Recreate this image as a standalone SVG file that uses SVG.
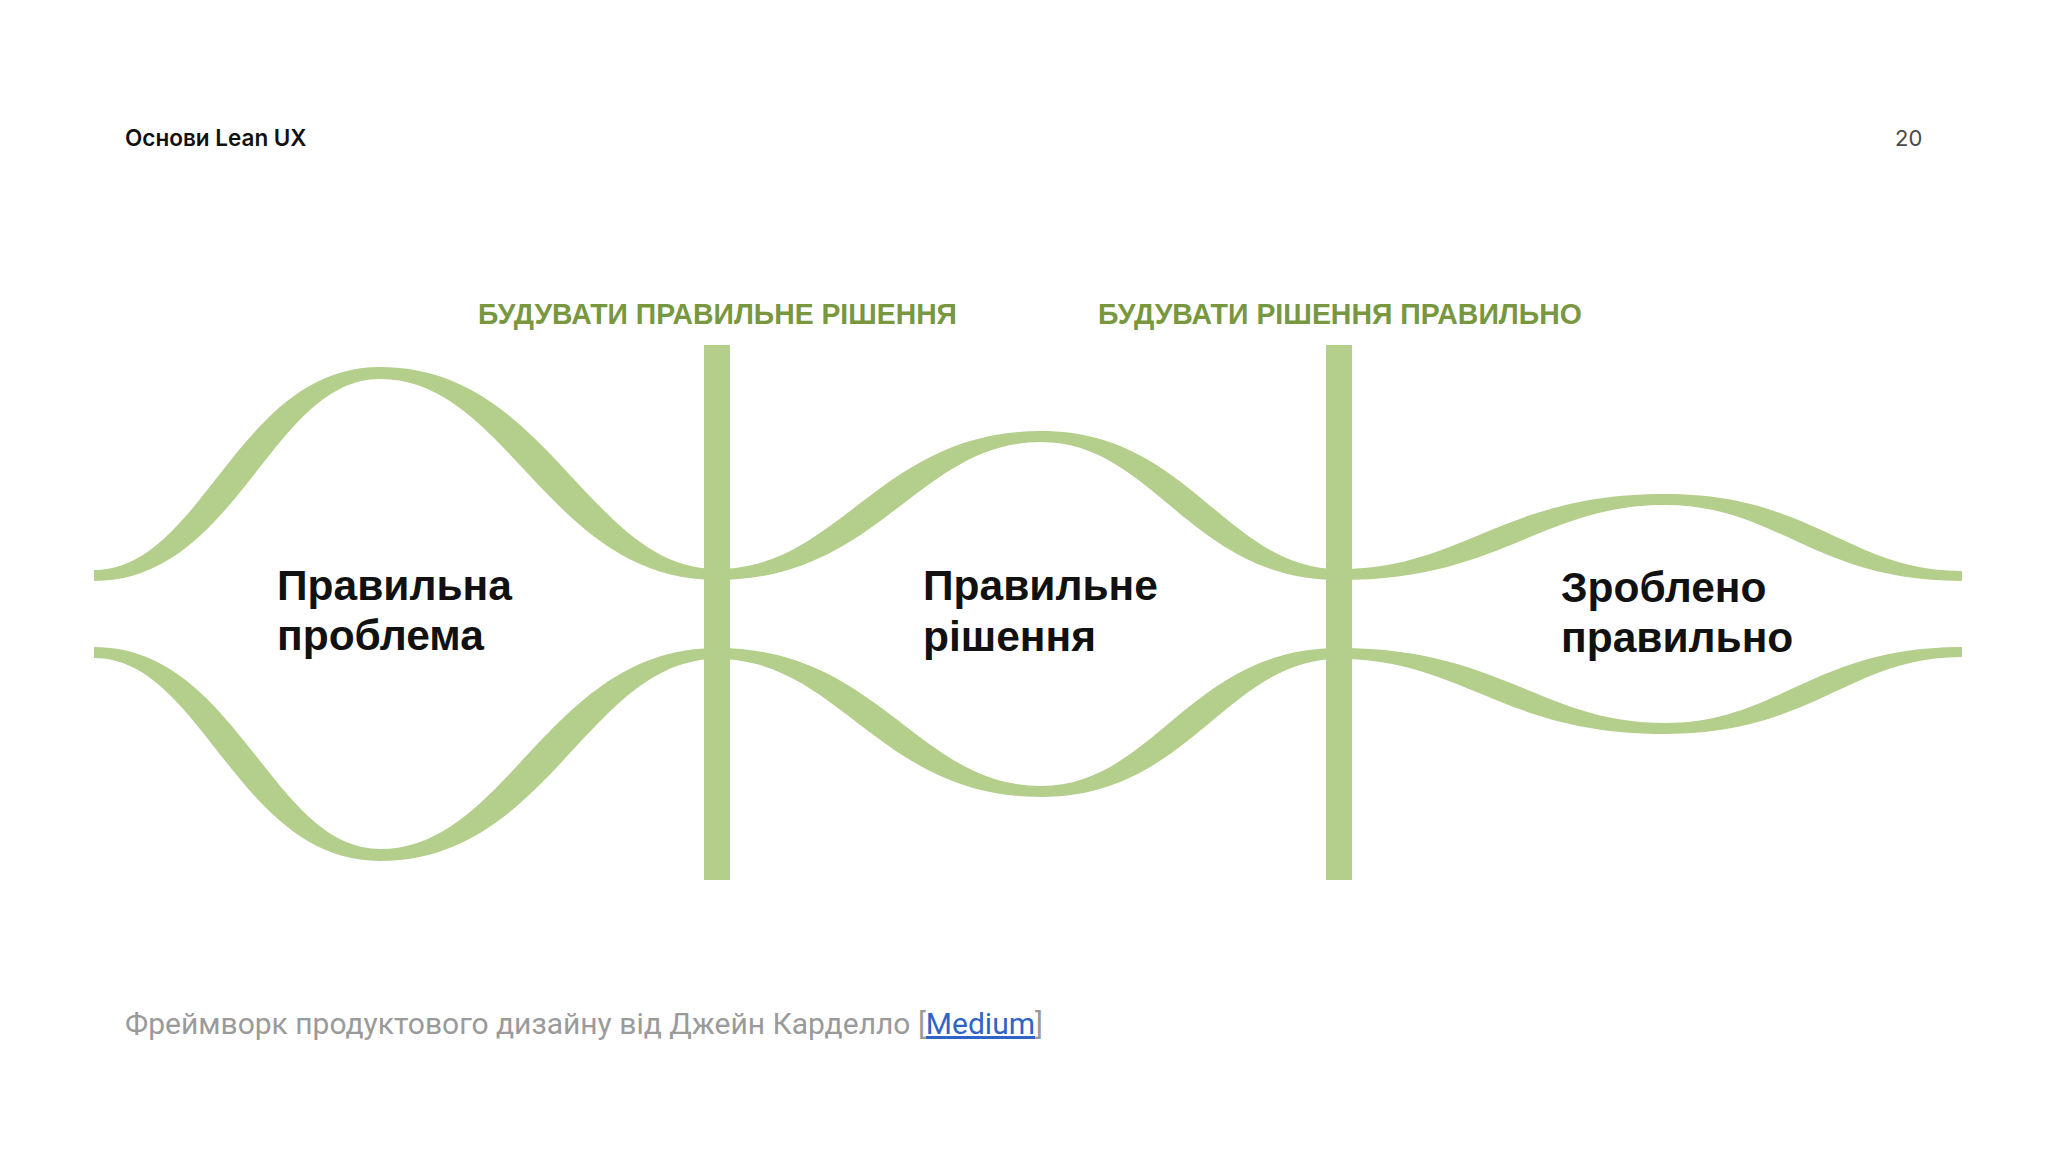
<svg xmlns="http://www.w3.org/2000/svg" width="2048" height="1152" viewBox="0 0 2048 1152">
  <defs>
    <style>
      .hdr { font-family: Inter, "Noto Sans", sans-serif; font-size: 22.5px; font-weight: 600; fill: #111; }
      .pg { font-family: Inter, "Noto Sans", sans-serif; font-size: 22px; fill: #4a4a4a; }
      .phase { font-family: "Liberation Sans Narrow", "Liberation Sans", Arial, sans-serif; font-size: 29px; font-weight: 700; fill: #78973f; }
      .stage { font-family: "Liberation Sans", Arial, sans-serif; font-size: 42.5px; font-weight: 700; fill: #111; }
      .cap { font-family: Roboto, "Liberation Sans", sans-serif; font-size: 30px; fill: #9a9a9a; }
      .link { fill: #2f63c8; text-decoration: underline; }
      .green { fill: #b4ce8b; }
    </style>
    <path id="wave" d="M94,570 C202.7,570 237,367 380,367 C548.5,367 588.9,569 717,569 C840.1,569 879,431 1041,431 C1190,431 1225.8,569 1339,569 C1462.9,569 1502,494 1665,494 C1813.5,494 1849.1,571 1962,571 L1962,581 C1813.5,581 1777.9,505 1665,505 C1541.1,505 1502,580 1339,580 C1190,580 1154.2,442 1041,442 C917.9,442 879,580 717,580 C548.5,580 508.1,379 380,379 C271.3,379 237,581 94,581 Z"/>
  </defs>
  <rect width="2048" height="1152" fill="#ffffff"/>

  <g id="header">
    <text class="hdr" x="125" y="146">Основи Lean UX</text>
    <text class="pg" x="1895" y="146">20</text>
  </g>

  <g id="connectors">
    <use href="#wave" class="green"/>
    <use href="#wave" class="green" transform="matrix(1,0,0,-1,0,1228)"/>
    <rect class="green" x="704" y="345" width="26" height="535"/>
    <rect class="green" x="1326" y="345" width="26" height="535"/>
  </g>

  <g id="phase-build-right-solution">
    <text class="phase" x="478" y="324" textLength="479" lengthAdjust="spacingAndGlyphs">БУДУВАТИ ПРАВИЛЬНЕ РІШЕННЯ</text>
  </g>
  <g id="phase-build-solution-right">
    <text class="phase" x="1098" y="324" textLength="484" lengthAdjust="spacingAndGlyphs">БУДУВАТИ РІШЕННЯ ПРАВИЛЬНО</text>
  </g>

  <g id="node-right-problem">
    <text class="stage" x="277" y="600">Правильна</text>
    <text class="stage" x="277" y="650">проблема</text>
  </g>
  <g id="node-right-solution">
    <text class="stage" x="923" y="600">Правильне</text>
    <text class="stage" x="923" y="651">рішення</text>
  </g>
  <g id="node-done-right">
    <text class="stage" x="1561" y="602">Зроблено</text>
    <text class="stage" x="1561" y="652">правильно</text>
  </g>

  <g id="caption">
    <text class="cap" x="125" y="1034">Фреймворк продуктового дизайну від Джейн Карделло [<tspan class="link">Medium</tspan>]</text>
  </g>
</svg>
